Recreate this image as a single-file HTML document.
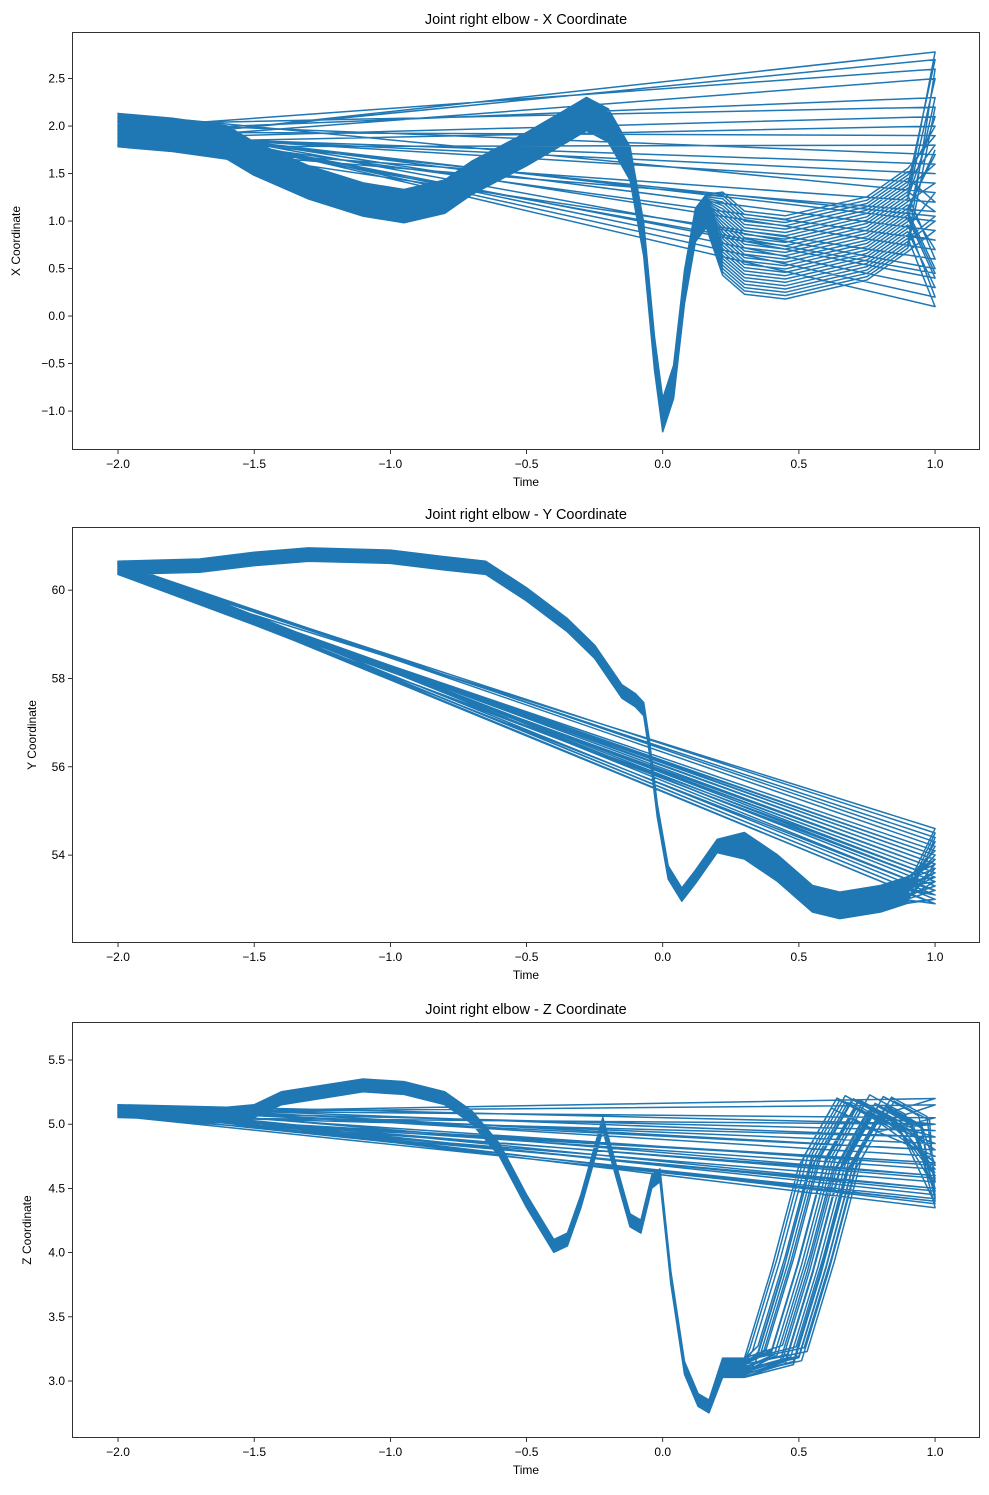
<!DOCTYPE html>
<html><head><meta charset="utf-8">
<style>
body{margin:0;background:#fff;}
svg text{font-family:"Liberation Sans",sans-serif;fill:#000;}
</style></head>
<body>
<svg id="chart" width="989" height="1490" xmlns="http://www.w3.org/2000/svg"></svg>
<script>
// ---- data ----
const xTicks = [-2.0,-1.5,-1.0,-0.5,0.0,0.5,1.0];
const xTickLabels = ["\u22122.0","\u22121.5","\u22121.0","\u22120.5","0.0","0.5","1.0"];
const baseTimeX = [-2.0,-1.8,-1.6,-1.5,-1.3,-1.1,-0.95,-0.8,-0.7,-0.5,-0.35,-0.28,-0.2,-0.12,-0.07,-0.03,0.0,0.04,0.08,0.12,0.16,0.22,0.3,0.45,0.6,0.75,0.9];
const baseValX  = [1.95,1.9,1.82,1.65,1.4,1.22,1.15,1.25,1.45,1.75,2.0,2.12,2.0,1.6,0.8,-0.4,-1.05,-0.7,0.3,0.95,1.1,0.85,0.65,0.6,0.7,0.8,1.1];
const baseTimeY = [-2.0,-1.7,-1.5,-1.3,-1.0,-0.8,-0.65,-0.5,-0.35,-0.25,-0.15,-0.1,-0.07,-0.05,-0.02,0.02,0.07,0.12,0.2,0.3,0.42,0.55,0.65,0.8,0.9];
const baseValY  = [60.5,60.55,60.7,60.8,60.75,60.6,60.5,59.9,59.2,58.6,57.7,57.5,57.3,56.5,55.0,53.6,53.1,53.5,54.2,54.2,53.7,53.0,52.85,53.0,53.2];
const baseTimeZ = [-2.0,-1.6,-1.5,-1.4,-1.25,-1.1,-0.95,-0.8,-0.7,-0.6,-0.5,-0.4,-0.35,-0.3,-0.22,-0.18,-0.12,-0.08,-0.04,-0.01,0.03,0.08,0.13,0.17,0.22,0.3,0.4,0.5,0.6,0.72,0.85];
const baseValZ  = [5.1,5.08,5.1,5.2,5.25,5.3,5.28,5.2,5.05,4.8,4.4,4.05,4.1,4.4,5.0,4.7,4.25,4.2,4.55,4.6,3.8,3.1,2.85,2.8,3.1,3.1,3.2,3.9,4.7,5.15,5.0];
const trialOffsets = [0.05,-0.08,0.12,-0.03,0.0,0.09,-0.12,0.04,-0.06,0.1,-0.1,0.02,0.07,-0.04,0.11,-0.09,0.03,-0.02,0.08,-0.07,0.01,0.06,-0.11,0.05,-0.05,0.13,-0.01,0.04,-0.08,0.0];
const endValX = [2.78,0.1,1.5,2.3,0.5,1.8,0.9,2.1,0.3,1.2,2.6,0.7,1.6,0.2,2.0,1.0,1.4,0.4,2.7,0.8,1.7,1.1,2.2,0.6,1.3,1.9,0.45,2.5,1.05,1.75];
const endValY = [54.6,53.2,53.8,52.9,54.3,53.5,53.0,54.0,53.4,53.7,54.4,53.1,53.9,53.3,54.1,52.9,53.6,54.2,53.2,53.8,53.5,54.0,53.0,53.6,53.3,53.9,54.5,53.4,53.7,53.1];
const endValZ = [4.5,4.8,5.2,4.4,4.6,5.0,4.35,4.7,4.9,4.55,5.05,4.45,4.65,4.75,4.4,4.85,5.15,4.5,4.6,4.95,4.38,4.7,4.8,4.42,5.0,4.58,4.68,4.9,4.48,4.62];
const zLateShift = [0.0,0.05,-0.05,0.1,0.02,-0.08,0.08,-0.03,0.04,0.12,-0.06,0.06,0.0,-0.1,0.09,0.03,-0.04,0.07,-0.02,0.11,0.01,-0.07,0.05,0.13,-0.01,0.04,0.1,-0.05,0.08,0.02];
const yTicksX = [-1.0,-0.5,0.0,0.5,1.0,1.5,2.0,2.5];
const yTicksY = [54,56,58,60];
const yTicksZ = [3.0,3.5,4.0,4.5,5.0,5.5];

// ---- layout ----
const NS="http://www.w3.org/2000/svg";
const svg=document.getElementById('chart');
const L=72,R=980;
const xMin=-2.169,xMax=1.165;
function xs(t){return L+(t-xMin)/(xMax-xMin)*(R-L);}
function mk(tag,attrs,parent){const e=document.createElementNS(NS,tag);for(const k in attrs)e.setAttribute(k,attrs[k]);(parent||svg).appendChild(e);return e;}

const panels=[
 {key:'x',title:'Joint right elbow - X Coordinate',ylab:'X Coordinate',top:32,bot:450,vmin:-1.41,vmax:2.99,
  bt:baseTimeX,bv:baseValX,ends:endValX,offScale:1.4,lateScale:2.5,ticks:yTicksX,fmt:v=>v.toFixed(1),ylx:16,shift:false},
 {key:'y',title:'Joint right elbow - Y Coordinate',ylab:'Y Coordinate',top:527,bot:943,vmin:52.01,vmax:61.43,
  bt:baseTimeY,bv:baseValY,ends:endValY,offScale:1.2,lateScale:2.0,ticks:yTicksY,fmt:v=>String(v),ylx:32,shift:false},
 {key:'z',title:'Joint right elbow - Z Coordinate',ylab:'Z Coordinate',top:1022,bot:1438,vmin:2.556,vmax:5.796,
  bt:baseTimeZ,bv:baseValZ,ends:endValZ,offScale:0.4,lateScale:1.5,ticks:yTicksZ,fmt:v=>v.toFixed(1),ylx:27,shift:true}
];

panels.forEach(p=>{
  const g=mk('g',{});
  
  
  const ys=v=>p.bot-(v-p.vmin)/(p.vmax-p.vmin)*(p.bot-p.top);
  const defs=mk('clipPath',{id:'clip-'+p.key},g);
  mk('rect',{x:L,y:p.top,width:R-L,height:p.bot-p.top},defs);
  let pts=[];
  for(let i=0;i<p.ends.length;i++){
    const o=trialOffsets[i]*p.offScale;
    for(let j=0;j<p.bt.length;j++){
      let t=p.bt[j];
      if(p.shift && t>=0.35) t+=zLateShift[i];
      const late=p.bt[j]>0.2?p.lateScale:1;
      pts.push(xs(t).toFixed(1)+','+ys(p.bv[j]+o*late).toFixed(1));
    }
    pts.push(xs(1.0).toFixed(1)+','+ys(p.ends[i]).toFixed(1));
  }
  const line=mk('polyline',{points:pts.join(' '),fill:'none',stroke:'#1f77b4','stroke-width':1.5,'stroke-linejoin':'round','clip-path':'url(#clip-'+p.key+')'},g);
  
  
  const fr=mk('rect',{x:L+0.5,y:p.top+0.5,width:R-L-1,height:p.bot-p.top-1,fill:'none',stroke:'#000','stroke-width':0.8},g);
  
  
  xTicks.forEach((t,k)=>{
    const x=xs(t);
    mk('line',{x1:x,x2:x,y1:p.bot,y2:p.bot+4,stroke:'#000','stroke-width':0.8},g);
    const tx=mk('text',{x:x,y:p.bot+18,'font-size':12,'text-anchor':'middle'},g);
    tx.textContent=xTickLabels[k];
    
    
  });
  p.ticks.forEach(v=>{
    const y=ys(v);
    mk('line',{x1:L-4,x2:L,y1:y,y2:y,stroke:'#000','stroke-width':0.8},g);
    const tx=mk('text',{x:L-7,y:y+4,'font-size':12,'text-anchor':'end'},g);
    tx.textContent=p.fmt(v).replace('-','\u2212');
    
    
  });
  const ti=mk('text',{x:(L+R)/2,y:p.top-8,'font-size':14.5,'text-anchor':'middle'},g);
  ti.textContent=p.title;
  
  
  const xl=mk('text',{x:(L+R)/2,y:p.bot+36,'font-size':12,'text-anchor':'middle'},g);
  xl.textContent='Time';
  
  
  const cy=(p.top+p.bot)/2;
  const yl=mk('text',{x:p.ylx+4,y:cy,'font-size':12,'text-anchor':'middle',transform:'rotate(-90 '+(p.ylx+4)+' '+cy+')'},g);
  yl.textContent=p.ylab;
  
  
});
</script>
</body></html>
